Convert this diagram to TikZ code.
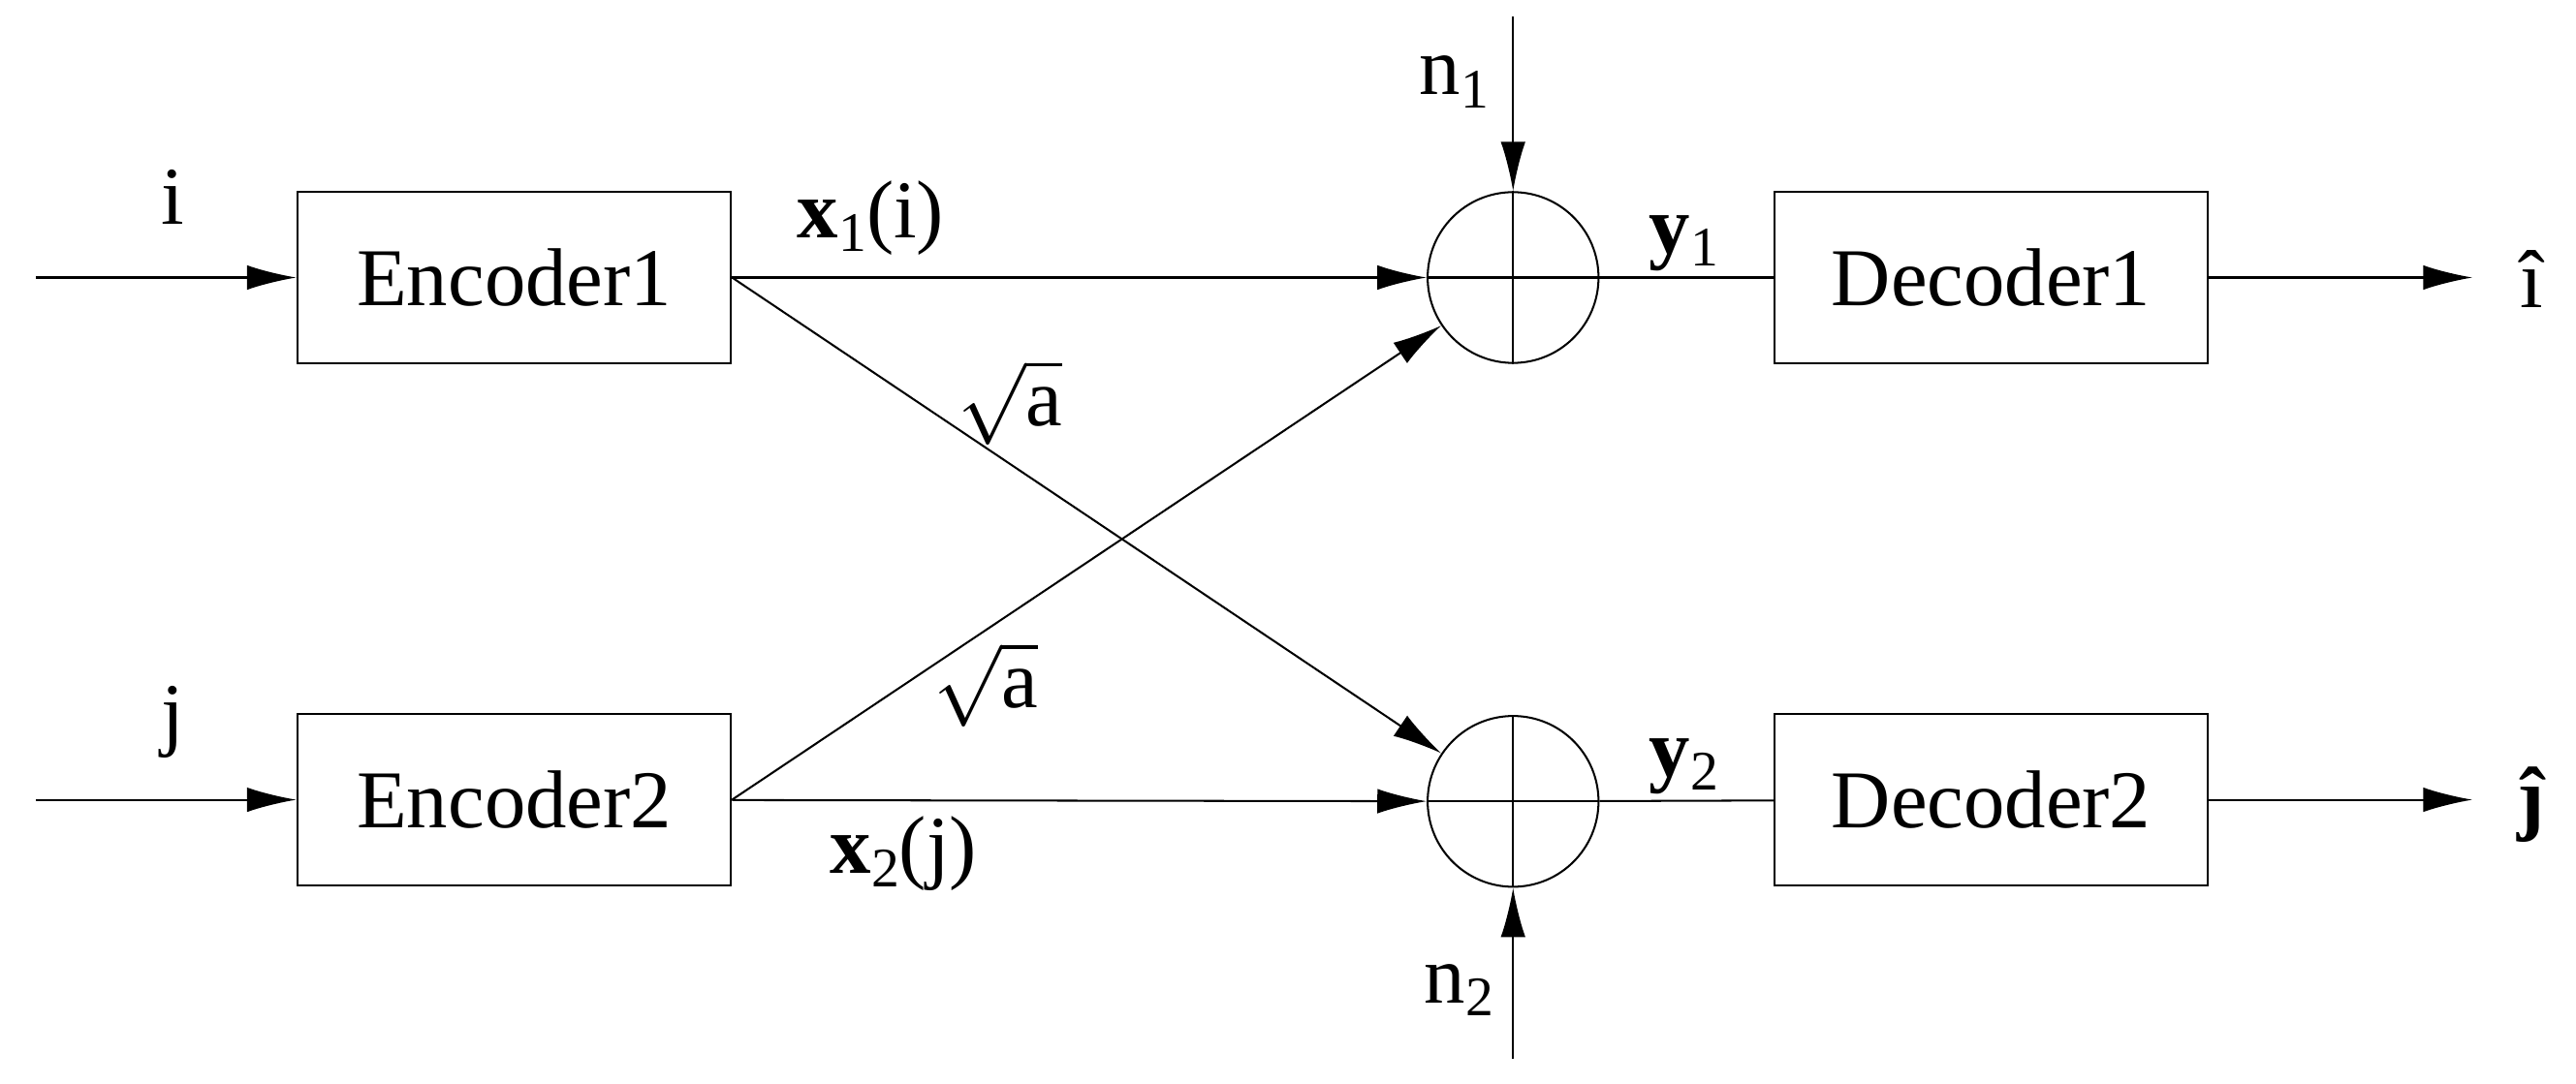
\documentclass[tikz,border=0pt]{standalone}
\usepackage{fontspec}
\setmainfont{Liberation Serif}
\usetikzlibrary{arrows.meta}
\newcommand{\sbs}[1]{\raisebox{-0.35ex}{\fontsize{17}{17}\selectfont #1}}
\begin{document}
\begin{tikzpicture}[x=0.5pt,y=-0.5pt,
  every node/.style={font=\fontsize{25}{28}\selectfont},
  box/.style={draw,line width=0.6pt,minimum width=132pt,minimum height=52pt,inner sep=0},
  sum/.style={draw,circle,line width=0.6pt,minimum size=52pt,inner sep=0},
  ln/.style={line width=0.6pt},
  arr/.style={ln,-{Latex[length=15pt,width=7.5pt]}}]
\useasboundingbox (0,0) rectangle (1568,660);
\node[box] (e1) at (313,169) {Encoder1};
\node[box] (e2) at (313,487) {Encoder2};
\node[box] (d1) at (1212,169) {Decoder1};
\node[box] (d2) at (1212,487) {Decoder2};
\node[sum] (s1) at (921,169) {};
\node[sum] (s2) at (921,488) {};
\draw[ln] (s1.north) -- (s1.south) (s1.west) -- (s1.east);
\draw[ln] (s2.north) -- (s2.south) (s2.west) -- (s2.east);
\coordinate (in1) at (22,169); \coordinate (in2) at (22,487);
\coordinate (o1) at (1505,169); \coordinate (o2) at (1505,487);
\coordinate (n1t) at (921,10); \coordinate (n2b) at (921,645);
\draw[arr] (in1) -- (e1); \draw[arr] (in2) -- (e2);
\draw[arr] (e1) -- (s1); \draw[arr] (e2) -- (s2);
\draw[arr] (e1.east) -- (s2); \draw[arr] (e2.east) -- (s1);
\draw[ln] (s1) -- (d1); \draw[ln] (s2) -- (d2);
\draw[arr] (d1) -- (o1); \draw[arr] (d2) -- (o2);
\draw[arr] (n1t) -- (s1.north); \draw[arr] (n2b) -- (s2.south);
\node (li) at (105,120) {i};
\node (lj) at (105,440) {j};
\node (lo1) at (1541,170) {\^{\i}};
\node (lo2) at (1541,490) {\textbf{\^{\j}}};
\node (ln1) at (885,50) {n\sbs{1}};
\node (ln2) at (888,603) {n\sbs{2}};
\node (lx1) at (530,133) {\textbf{x}\sbs{1}(i)};
\node (lx2) at (550,520) {\textbf{x}\sbs{2}(j)};
\node (la1) at (615,245) {$\sqrt{\textrm{a}}$};
\node (la2) at (600,417) {$\sqrt{\textrm{a}}$};
\node (ly1) at (1025,148) {\textbf{y}\sbs{1}};
\node (ly2) at (1025,467) {\textbf{y}\sbs{2}};
\end{tikzpicture}
\end{document}
